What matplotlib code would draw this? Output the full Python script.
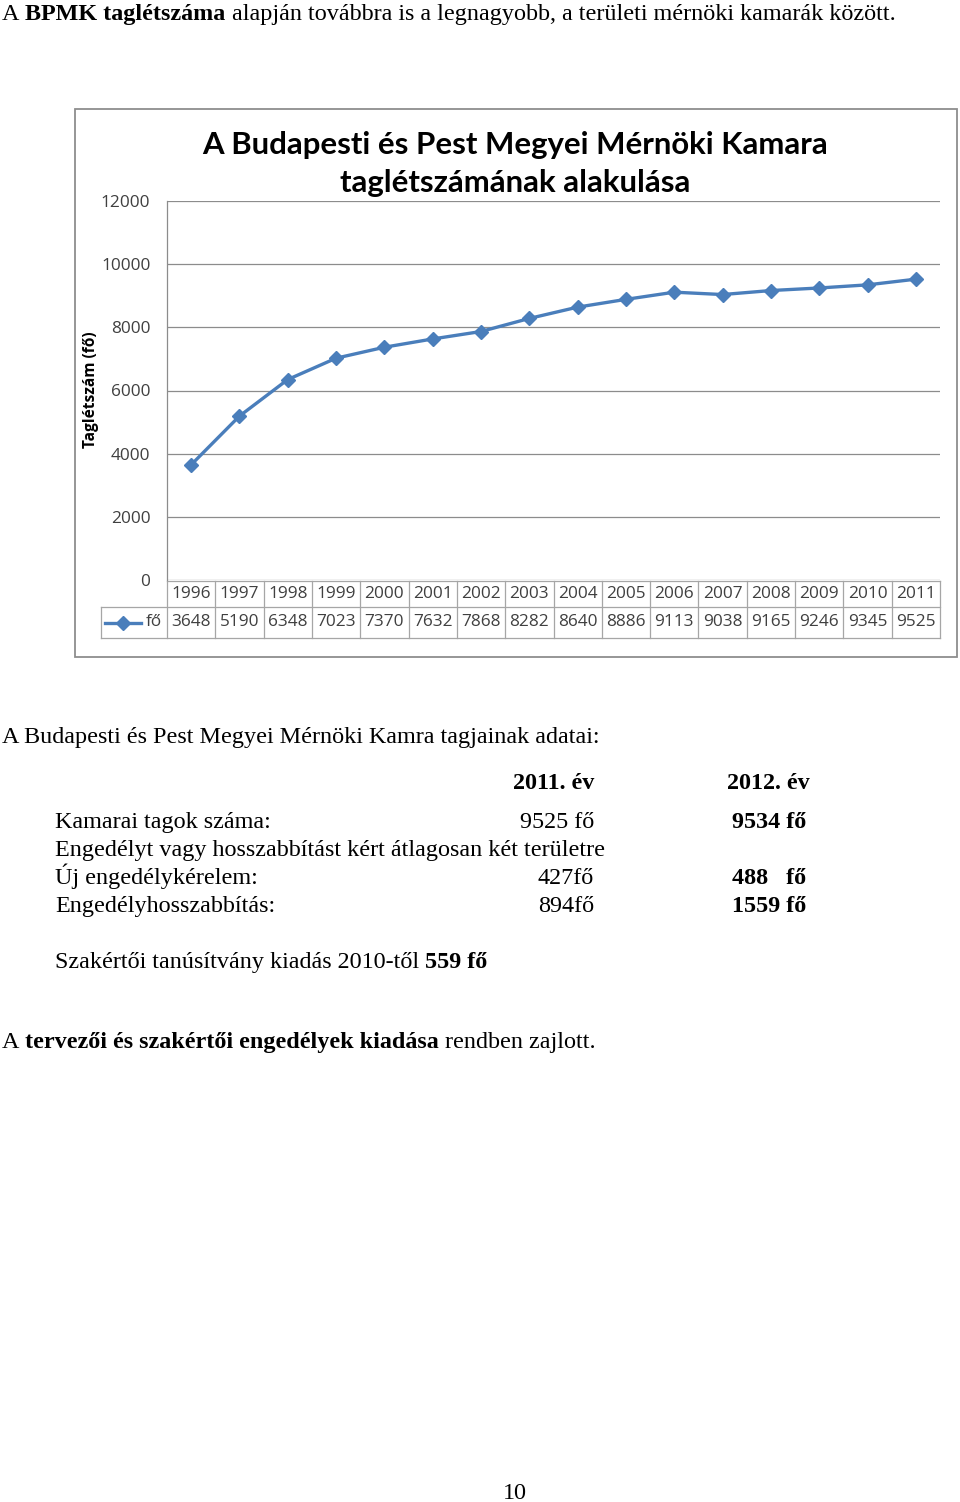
import matplotlib
matplotlib.use("Agg")
import matplotlib.pyplot as plt
from matplotlib.patches import Rectangle
from matplotlib.lines import Line2D
import matplotlib.transforms as mtransforms

# ---------------- data ----------------
years = ["1996", "1997", "1998", "1999", "2000", "2001", "2002", "2003",
         "2004", "2005", "2006", "2007", "2008", "2009", "2010", "2011"]
members = [3648, 5190, 6348, 7023, 7370, 7632, 7868, 8282,
           8640, 8886, 9113, 9038, 9165, 9246, 9345, 9525]
yticks = [0, 2000, 4000, 6000, 8000, 10000, 12000]
series_name = "fő"
chart_title = "A Budapesti és Pest Megyei Mérnöki Kamara\ntaglétszámának alakulása"
y_label = "Taglétszám (fő)"

col_2011 = ["9525 fő", "427fő", "894fő"]
col_2012 = ["9534 fő", "488   fő", "1559 fő"]

W, H = 960, 1502
fig = plt.figure(figsize=(W / 100, H / 100), dpi=100)
fig.patch.set_facecolor("white")
renderer = fig.canvas.get_renderer()

SERIF = "Liberation Serif"
SANS = "Open Sans"
BODY = 17.35
CHART_FS = 12.4
LINE_C = "#4A7EBB"
GRID_C = "#8C8C8C"
TXT_C = "#404040"


def fx(x):
    return x / W


def fy(y):
    return 1 - y / H


def text_w(s, **kw):
    t = fig.text(0, 0, s, **kw)
    w = t.get_window_extent(renderer).width
    t.remove()
    return w


def runs(x, y, parts, size=BODY, family=SERIF):
    sp = text_w("x x", fontsize=size, family=family) - text_w("xx", fontsize=size, family=family)
    for i, (s, bold) in enumerate(parts):
        if i > 0:
            x += sp
        t = fig.text(fx(x), fy(y), s, fontsize=size, family=family,
                     fontweight="bold" if bold else "normal", va="baseline", ha="left", color="black")
        x += t.get_window_extent(renderer).width


# ---------------- page text ----------------
runs(2, 20, [("A", False), ("BPMK taglétszáma", True),
             ("alapján továbbra is a legnagyobb, a területi mérnöki kamarák között.", False)])
runs(2, 743, [("A Budapesti és Pest Megyei Mérnöki Kamra tagjainak adatai:", False)])

fig.text(fx(594), fy(789), "2011. év", fontsize=BODY, family=SERIF, fontweight="bold", ha="right", va="baseline")
fig.text(fx(727), fy(789), "2012. év", fontsize=BODY, family=SERIF, fontweight="bold", ha="left", va="baseline")

row_labels = ["Kamarai tagok száma:", "Új engedélykérelem:", "Engedélyhosszabbítás:"]
row_base = [828, 884, 912]
for lab, b, v1, v2 in zip(row_labels, row_base, col_2011, col_2012):
    fig.text(fx(55), fy(b), lab, fontsize=BODY, family=SERIF, ha="left", va="baseline")
    fig.text(fx(594), fy(b), v1, fontsize=BODY, family=SERIF, ha="right", va="baseline")
    fig.text(fx(732), fy(b), v2, fontsize=BODY, family=SERIF, fontweight="bold", ha="left", va="baseline")
fig.text(fx(55), fy(856), "Engedélyt vagy hosszabbítást kért átlagosan két területre",
         fontsize=BODY, family=SERIF, ha="left", va="baseline")

runs(55, 968, [("Szakértői tanúsítvány kiadás 2010-től", False), ("559 fő", True)])
runs(2, 1048, [("A", False), ("tervezői és szakértői engedélyek kiadása", True), ("rendben zajlott.", False)])
fig.text(fx(515), fy(1499), "10", fontsize=BODY, family=SERIF, ha="center", va="baseline")

# ---------------- chart frame ----------------
frame = Rectangle((fx(75), fy(657)), fx(957 - 75), (657 - 109) / H,
                  transform=fig.transFigure, facecolor="none",
                  edgecolor="#8E8E8E", linewidth=1.3, zorder=-1)
fig.patches.append(frame)

ax_l, ax_r, ax_t, ax_b = 167, 940, 201, 580
ax = fig.add_axes([fx(ax_l), fy(ax_b), (ax_r - ax_l) / W, (ax_b - ax_t) / H])
ax.set_facecolor("none")
n = len(years)
xs = list(range(n))
ax.set_xlim(-0.5, n - 0.5)
ax.set_ylim(0, 12000)
ax.set_yticks(yticks)
ax.set_yticklabels([str(v) for v in yticks], fontsize=CHART_FS, family=SANS, color=TXT_C)
ax.tick_params(axis="y", length=0, pad=12)
ax.tick_params(axis="x", length=0, labelbottom=False)
for s in ["top", "right", "bottom"]:
    ax.spines[s].set_visible(False)
ax.spines["left"].set_color(GRID_C)
ax.spines["left"].set_linewidth(0.9)
ax.grid(axis="y", color=GRID_C, linewidth=0.9)
ax.set_axisbelow(True)

ax.plot(xs, members, color=LINE_C, linewidth=2.4, marker="D", markersize=7.5,
        markerfacecolor=LINE_C, markeredgecolor=LINE_C, zorder=3)

title_lines = chart_title.split("\n")
fig.text(fx(515), fy(154), title_lines[0], fontsize=22.4, family="Lato",
         fontweight="bold", ha="center", va="baseline", color="black")
fig.text(fx(515), fy(192), title_lines[1], fontsize=22.4, family="Lato",
         fontweight="bold", ha="center", va="baseline", color="black")
fig.text(fx(91), fy(390), y_label, fontsize=11.2, family=SANS, fontweight="bold",
         rotation=90, ha="center", va="center", color="black")

# ---------------- data table (x axis) ----------------
trans = mtransforms.blended_transform_factory(ax.transData, ax.transAxes)
ah = ax_b - ax_t
col_w = (ax_r - ax_l) / n


def ay(ypx):
    return (ax_b - ypx) / ah


r_top, r_mid, r_bot = 581, 607, 638
leg_left = -0.5 - (ax_l - 101) / col_w
tc = "#A6A6A6"
kw = dict(transform=trans, color=tc, linewidth=0.9, clip_on=False)
ax.add_line(Line2D([-0.5, n - 0.5], [ay(r_top)] * 2, **kw))
ax.add_line(Line2D([leg_left, n - 0.5], [ay(r_mid)] * 2, **kw))
ax.add_line(Line2D([leg_left, n - 0.5], [ay(r_bot)] * 2, **kw))
ax.add_line(Line2D([leg_left, leg_left], [ay(r_mid), ay(r_bot)], **kw))
for i in range(n + 1):
    ax.add_line(Line2D([i - 0.5, i - 0.5], [ay(r_top), ay(r_bot)], **kw))

for i, (yr, v) in enumerate(zip(years, members)):
    ax.text(i, ay((r_top + r_mid) / 2), yr, transform=trans, ha="center", va="center",
            fontsize=CHART_FS, family=SANS, color=TXT_C, clip_on=False)
    ax.text(i, ay((r_mid + r_bot) / 2), f"{v}", transform=trans, ha="center", va="center",
            fontsize=CHART_FS, family=SANS, color=TXT_C, clip_on=False)

# legend key in table
lx0 = -0.5 - (ax_l - 105) / col_w
lx1 = -0.5 - (ax_l - 141) / col_w
ly = ay((r_mid + r_bot) / 2)
ax.add_line(Line2D([lx0, lx1], [ly, ly], transform=trans, color=LINE_C, linewidth=2.4, clip_on=False))
ax.add_line(Line2D([(lx0 + lx1) / 2], [ly], transform=trans, color=LINE_C, marker="D",
                   markersize=7, clip_on=False))
ax.text(lx1 + 0.1, ly, series_name, transform=trans, ha="left", va="center",
        fontsize=CHART_FS, family=SANS, color=TXT_C, clip_on=False)

fig.savefig("out.png", dpi=100, facecolor="white")
